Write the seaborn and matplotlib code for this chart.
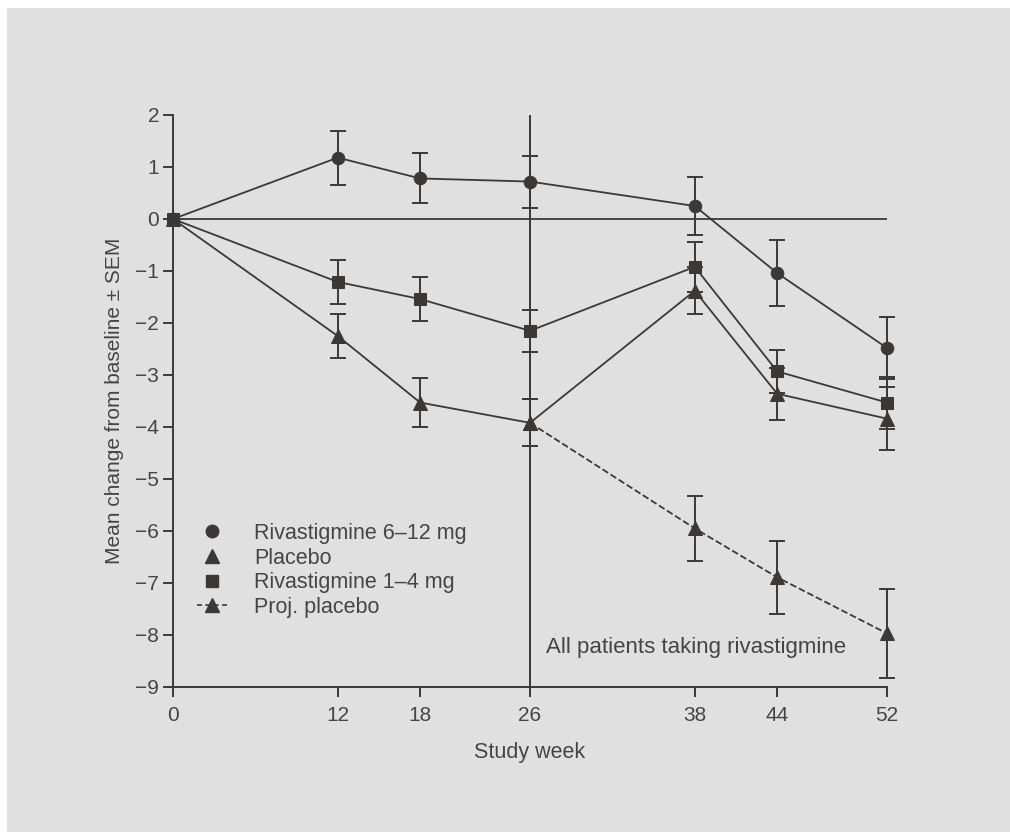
import numpy as np
import pandas as pd
import matplotlib
matplotlib.use('Agg')
import matplotlib.pyplot as plt
from matplotlib.lines import Line2D
from matplotlib.patches import Rectangle
import seaborn as sns

# data
weeks = [0, 12, 18, 26, 38, 44, 52]
riva_high = [0, 1.18, 0.78, 0.72, 0.25, -1.04, -2.48]
riva_high_err = [0, 0.52, 0.48, 0.5, 0.55, 0.63, 0.6]
riva_low = [0, -1.21, -1.54, -2.15, -0.92, -2.93, -3.53]
riva_low_err = [0, 0.42, 0.43, 0.4, 0.48, 0.42, 0.5]
placebo = [0, -2.25, -3.53, -3.92, -1.38, -3.36, -3.84]
placebo_err = [0, 0.42, 0.47, 0.45, 0.45, 0.5, 0.6]
proj_weeks = [26, 38, 44, 52]
proj_placebo = [-3.92, -5.95, -6.89, -7.97]
proj_err = [0.45, 0.62, 0.7, 0.85]

ink = '#3b3838'
txt = '#454545'
bg = '#e0e0e0'

sns.set_style('white')
plt.rcParams['font.family'] = ['Liberation Sans', 'DejaVu Sans']

fig = plt.figure(figsize=(10.1, 8.32), dpi=100)
fig.patch.set_facecolor('white')
fig.patches.append(Rectangle((7 / 1010, 0), 1, 1 - 8 / 832, transform=fig.transFigure,
                             facecolor=bg, edgecolor='none', zorder=-10))
ax = fig.add_axes([173 / 1010, 1 - 687 / 832, 714 / 1010, 572 / 832])
ax.set_facecolor('none')

series = [
    (weeks, riva_high, riva_high_err, 'o', '-', 9),
    (weeks, riva_low, riva_low_err, 's', '-', 9),
    (weeks, placebo, placebo_err, '^', '-', 10.5),
    (proj_weeks, proj_placebo, proj_err, '^', '--', 10.5),
]
for x, y, e, m, ls, ms in series:
    df = pd.DataFrame({'week': x, 'value': y})
    sns.lineplot(data=df, x='week', y='value', ax=ax, color=ink, lw=1.3,
                 linestyle=ls, marker=m, markersize=ms, markeredgecolor=ink,
                 clip_on=False, zorder=3)
    ax.errorbar(x[1:] if x[0] == 0 else x, y[1:] if x[0] == 0 else y,
                yerr=e[1:] if x[0] == 0 else e, fmt='none', ecolor=ink,
                elinewidth=1.4, capsize=6, capthick=1.4, clip_on=False, zorder=2)

ax.axhline(0, color=ink, lw=1.3, zorder=1)
ax.axvline(26, color=ink, lw=1.4, zorder=1)

ax.set_xlim(0, 52)
ax.set_ylim(-9, 2)
ax.set_xticks(weeks)
ax.set_yticks(range(-9, 3))
ax.set_yticklabels([str(v).replace('-', '\u2212') for v in range(-9, 3)])
for s in ['top', 'right']:
    ax.spines[s].set_visible(False)
for s in ['left', 'bottom']:
    ax.spines[s].set_color(ink)
    ax.spines[s].set_linewidth(1.4)
ax.tick_params(axis='both', direction='out', length=7, width=1.4, color=ink,
               labelcolor=txt, labelsize=15, left=True, bottom=True)
ax.tick_params(axis='y', pad=3)
ax.tick_params(axis='x', pad=7)

ax.set_xlabel('Study week', fontsize=15.5, color=txt, labelpad=12)
ax.set_ylabel('Mean change from baseline \u00b1 SEM', fontsize=15, color=txt, labelpad=8)

ax.text(27.2, -8.25, 'All patients taking rivastigmine', fontsize=16,
        color=txt, va='center', ha='left')

handles = [
    Line2D([], [], ls='none', marker='o', ms=9, color=ink),
    Line2D([], [], ls='none', marker='^', ms=10, color=ink),
    Line2D([], [], ls='none', marker='s', ms=9, color=ink),
    Line2D([], [], ls='--', lw=1.2, marker='^', ms=10, color=ink, dashes=(3, 2)),
]
labels = ['Rivastigmine 6\u201312 mg', 'Placebo', 'Rivastigmine 1\u20134 mg', 'Proj. placebo']
leg = ax.legend(handles, labels, loc='upper left', bbox_to_anchor=(0.022, 0.302),
                frameon=False, fontsize=15.5, handlelength=1.4, handletextpad=1.25,
                labelspacing=0.17, borderaxespad=0)
for t in leg.get_texts():
    t.set_color(txt)

fig.savefig('out.png', dpi=100, facecolor=fig.get_facecolor())
